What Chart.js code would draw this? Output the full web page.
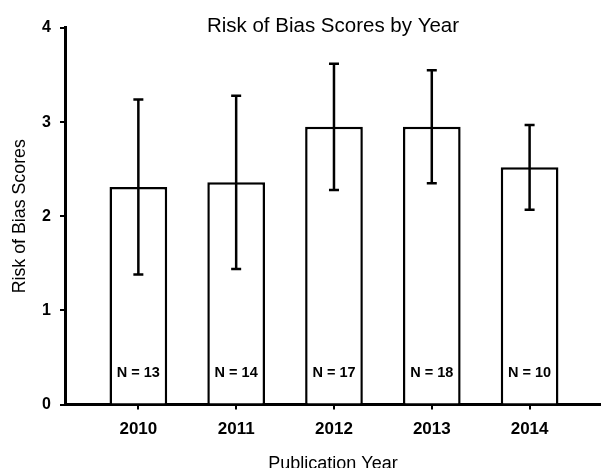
<!DOCTYPE html>
<html>
<head>
<meta charset="utf-8">
<script src="https://cdn.jsdelivr.net/npm/chart.js@4"></script>
<style>
  html, body { margin: 0; padding: 0; background: #fff; }
  #wrap { width: 601px; height: 468px; }
</style>
</head>
<body>
<div id="wrap"><canvas id="biasChart"></canvas></div>
<script>
const years = ['2010', '2011', '2012', '2013', '2014'];
const meanScores = [2.31, 2.36, 2.95, 2.95, 2.52];
const sdScores = [0.93, 0.92, 0.67, 0.60, 0.45];
const sampleSizes = [13, 14, 17, 18, 10];
const yTicks = [0, 1, 2, 3, 4];

const FONT = "'Liberation Sans', Arial, sans-serif";

// error bars + N labels drawn on top of the bars
const errorBarPlugin = {
    id: 'errorBars',
    afterDatasetsDraw(chart) {
        const ctx = chart.ctx;
        const yScale = chart.scales.y;
        const meta = chart.getDatasetMeta(0);
        ctx.save();
        ctx.strokeStyle = '#000';
        ctx.lineWidth = 2.5;
        meta.data.forEach((bar, i) => {
            const top = yScale.getPixelForValue(meanScores[i] + sdScores[i]);
            const bottom = yScale.getPixelForValue(meanScores[i] - sdScores[i]);
            ctx.beginPath();
            ctx.moveTo(bar.x, top);
            ctx.lineTo(bar.x, bottom);
            ctx.moveTo(bar.x - 5, top);
            ctx.lineTo(bar.x + 5, top);
            ctx.moveTo(bar.x - 5, bottom);
            ctx.lineTo(bar.x + 5, bottom);
            ctx.stroke();

            ctx.fillStyle = '#000';
            ctx.font = 'bold 14.5px ' + FONT;
            ctx.textAlign = 'center';
            ctx.textBaseline = 'middle';
            ctx.fillText('N = ' + sampleSizes[i], bar.x, yScale.getPixelForValue(0) - 32);
        });
        ctx.restore();
    }
};

const ctx = document.getElementById('biasChart').getContext('2d');
const biasChart = new Chart(ctx, {
    type: 'bar',
    data: {
        datasets: [{
            data: years.map((y, i) => ({ x: i, y: meanScores[i] })),
            backgroundColor: '#fff',
            borderColor: '#000',
            borderWidth: 2.5,
            barPercentage: 0.59,
            categoryPercentage: 1
        }]
    },
    options: {
        responsive: true,
        maintainAspectRatio: false,
        animation: false,
        layout: { padding: 0 },
        plugins: {
            legend: { display: false },
            tooltip: { enabled: false },
            title: {
                display: true,
                text: 'Risk of Bias Scores by Year',
                color: '#000',
                fullSize: false,
                font: { family: FONT, size: 20.5, weight: 'normal' },
                padding: { top: 13.7, bottom: -10.3 }
            }
        },
        scales: {
            x: {
                type: 'linear',
                offset: false,
                min: -0.75,
                max: 4.73,
                afterBuildTicks: (scale) => { scale.ticks = years.map((y, i) => ({ value: i })); },
                afterFit: (scale) => { scale.height = 63.5; },
                ticks: {
                    color: '#000',
                    padding: 10,
                    font: { family: FONT, size: 17, weight: 'bold' },
                    callback: (value) => years[value]
                },
                grid: { offset: false, drawOnChartArea: false, color: '#000', lineWidth: 2, tickLength: 5 },
                border: { color: '#000', width: 3 },
                title: {
                    display: true,
                    text: 'Publication Year',
                    color: '#000',
                    font: { family: FONT, size: 18 },
                    padding: { top: 0, bottom: -6.8 }
                }
            },
            y: {
                min: 0,
                max: 4,
                afterBuildTicks: (scale) => { scale.ticks = yTicks.map(v => ({ value: v })); },
                afterFit: (scale) => { scale.width = 65; },
                ticks: {
                    color: '#000',
                    padding: 9,
                    font: { family: FONT, size: 16, weight: 'bold' }
                },
                grid: { drawOnChartArea: false, color: '#000', lineWidth: 2, tickLength: 5 },
                border: { color: '#000', width: 3 },
                title: {
                    display: true,
                    text: 'Risk of Bias Scores',
                    color: '#000',
                    font: { family: FONT, size: 17.8 },
                    padding: { top: 9, bottom: 0 }
                }
            }
        }
    },
    plugins: [errorBarPlugin]
});
</script>
</body>
</html>
